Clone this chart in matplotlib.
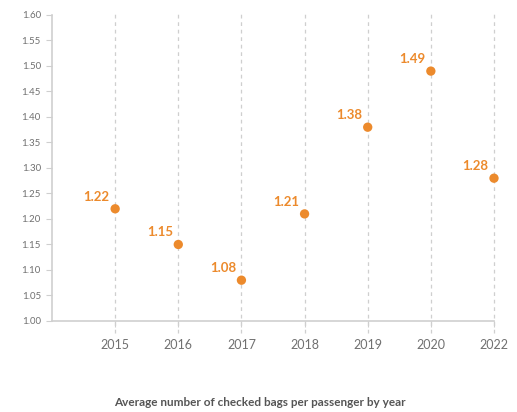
import matplotlib
matplotlib.use("Agg")
import matplotlib.pyplot as plt
import numpy as np

years = ["2015", "2016", "2017", "2018", "2019", "2020", "2022"]
bags = [1.22, 1.15, 1.08, 1.21, 1.38, 1.49, 1.28]
yticks = [1.00, 1.05, 1.10, 1.15, 1.20, 1.25, 1.30, 1.35, 1.40, 1.45, 1.50, 1.55, 1.60]
caption = "Average number of checked bags per passenger by year"

orange = "#EC8A2C"
grey_text = "#707070"
grey_line = "#cfcfcf"

plt.rcParams["font.family"] = ["Lato", "DejaVu Sans"]

fig = plt.figure(figsize=(5.17, 4.12), dpi=100)
ax = fig.add_axes([0.1006, 0.2209, 0.8549, 0.7427])

x = np.arange(1, len(years) + 1)

for xi in x:
    ax.axvline(xi, color=grey_line, lw=0.9, ls=(0, (3, 3)), zorder=0,
               ymin=-0.04, ymax=1.01, clip_on=False)

ax.scatter(x, bags, s=45, color=orange, zorder=3, edgecolors="none", clip_on=False)
for xi, v in zip(x, bags):
    ax.annotate(f"{v:.2f}", (xi, v), xytext=(-4, 4.5), textcoords="offset points",
                ha="right", va="bottom", color=orange, fontsize=9.5,
                fontweight="bold")

ax.set_xlim(0, len(years))
ax.set_ylim(1.0, 1.6)
ax.set_xticks(x)
ax.set_xticklabels(years)
ax.set_yticks(yticks)
ax.set_yticklabels([f"{t:.2f}" for t in yticks])

for s in ["top", "right"]:
    ax.spines[s].set_visible(False)
for s in ["left", "bottom"]:
    ax.spines[s].set_color(grey_line)
    ax.spines[s].set_linewidth(1.2)

ax.tick_params(axis="y", colors=grey_line, labelcolor=grey_text, labelsize=7,
               length=4, width=0.8, pad=4)
ax.tick_params(axis="x", colors=grey_line, labelcolor=grey_text, labelsize=9,
               length=4, width=0.8, pad=9)

fig.text(0.503, 0.024, caption, ha="center", va="center", color="#555555",
         fontsize=8.5, fontweight="bold")

fig.savefig("out.png", dpi=100, facecolor="white")
